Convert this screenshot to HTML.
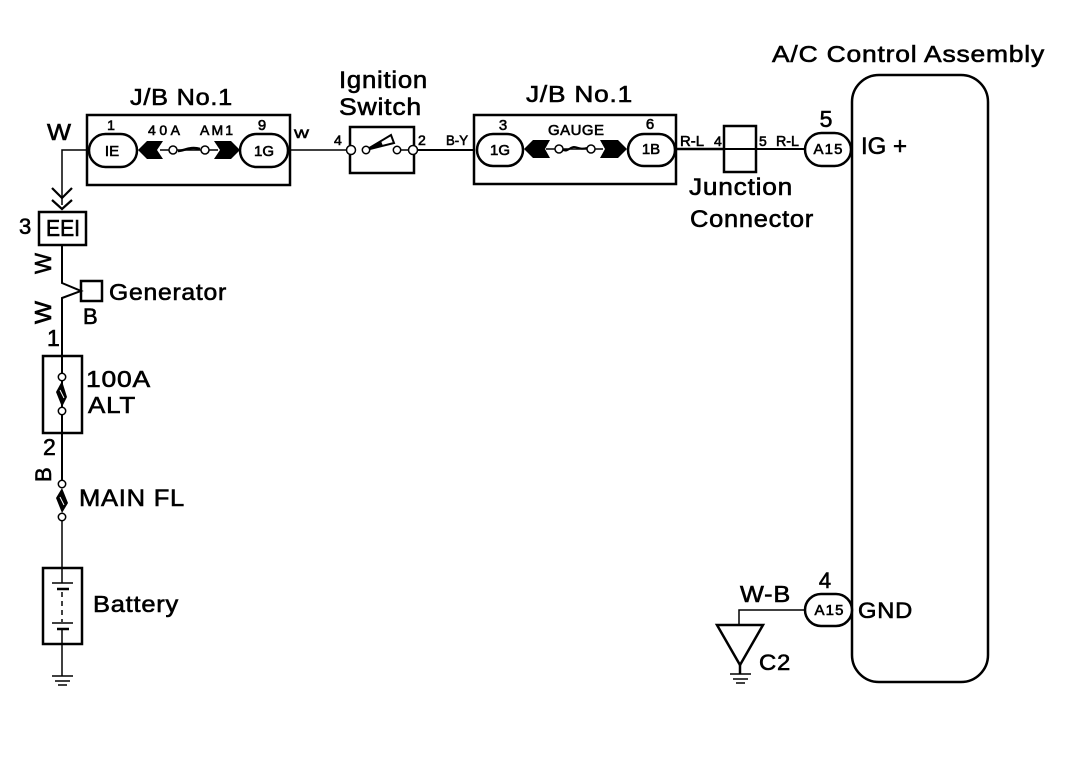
<!DOCTYPE html>
<html><head><meta charset="utf-8"><style>
html,body{margin:0;padding:0;background:#fff}
svg{display:block}
text{font-family:"Liberation Sans",sans-serif;fill:#000;stroke:#000;stroke-width:.6}
.t{letter-spacing:.7px}
.l{fill:none;stroke:#000;stroke-width:1.5}
.b{fill:none;stroke:#000;stroke-width:2.5}
.o{fill:#fff;stroke:#000;stroke-width:2.5}
.c{fill:#fff;stroke:#000;stroke-width:1.5}
.f{fill:#000;stroke:none}
.m{text-anchor:middle}
</style></head><body>
<svg width="1072" height="760" viewBox="0 0 1072 760" xmlns="http://www.w3.org/2000/svg">
<rect width="1072" height="760" fill="#fff"/>

<!-- wires -->
<path class="l" d="M88 150H62V205"/>
<path class="l" style="stroke-width:2.2" d="M52 188L62 198L72 188M52 200L62 209L72 200"/>
<path class="l" style="stroke-width:2" d="M62 245V283L81 291L62 298V484"/>
<path class="l" d="M62 517V568M62 644V676"/>
<path class="l" d="M290 150H351"/>
<path class="b" style="stroke-width:2" d="M413 150H475"/>
<path class="b" d="M675 149H724"/>
<path class="l" d="M724 149H756" style="stroke-width:2"/>
<path class="b" style="stroke-width:2" d="M756 149H804"/>
<path class="l" d="M804 610H739V625"/>

<!-- big assembly -->
<rect class="b" x="852" y="75" width="136" height="607" rx="27" ry="27"/>

<!-- J/B left -->
<rect class="b" x="87" y="115" width="203" height="70"/>
<rect class="o" x="89" y="134" width="48" height="33" rx="16.5"/>
<rect class="o" x="240" y="134" width="48" height="33" rx="16.5"/>
<path class="l" d="M160 150H218"/>
<path class="f" d="M138 150L147 141H163L157 150L163 159H147Z"/>
<path class="f" d="M240 150L231 141H214L220 150L214 159H231Z"/>
<path class="l" style="stroke-width:2.5" d="M178 151C184 151 190 146 200 149"/>
<circle class="c" cx="173" cy="150" r="4"/>
<circle class="c" cx="205" cy="150" r="4"/>

<!-- Ignition switch -->
<path class="b" d="M350 127H414V173H350Z"/>
<path class="l" d="M366 150L391 135L394 143Z" style="fill:#fff;stroke-width:2"/>
<path class="f" d="M366 150L381 141L383 146Z"/>
<circle class="c" cx="351" cy="150" r="4.5"/>
<circle class="c" cx="366" cy="150" r="3.7"/>
<circle class="c" cx="397" cy="150" r="3.7"/>
<circle class="c" cx="413" cy="150" r="4.5"/>
<path class="l" d="M401 150H409"/>

<!-- J/B right -->
<rect class="b" x="474" y="115" width="202" height="69"/>
<rect class="o" x="477" y="134" width="46" height="32" rx="16"/>
<rect class="o" x="628" y="134" width="47" height="32" rx="16"/>
<path class="l" d="M546 149H603"/>
<path class="f" d="M524 149L533 140H550L545 149L550 158H533Z"/>
<path class="f" d="M627 149L618 140H600L605 149L600 158H618Z"/>
<path class="l" style="stroke-width:2" d="M563 150C568 152 570 147 574 147C578 147 580 150 587 148"/>
<circle class="c" cx="559" cy="149" r="4"/>
<circle class="c" cx="591" cy="149" r="4"/>

<!-- Junction connector -->
<rect class="b" x="724" y="126" width="32" height="46"/>

<!-- A15 ovals -->
<rect class="o" x="805" y="133" width="46" height="33" rx="16.5"/>
<rect class="o" x="805" y="594" width="47" height="32" rx="16"/>

<!-- EEI / generator -->
<rect class="b" x="39" y="212" width="47" height="33"/>
<rect class="b" x="81" y="281" width="21" height="20"/>

<!-- 100A fuse -->
<rect class="b" x="43" y="356" width="39" height="77"/>
<path class="f" d="M62 381L56 392L62 407L67 397Z"/>
<path class="l" style="stroke:#fff;stroke-width:1" d="M60 390L64 398"/>
<circle class="c" cx="62" cy="377" r="3.7"/>
<circle class="c" cx="62" cy="411" r="3.7"/>

<!-- MAIN FL -->
<path class="f" d="M62 488L56 498L62 513L68 503Z"/>
<path class="l" style="stroke:#fff;stroke-width:1" d="M60 497L64 505"/>
<circle class="c" cx="62" cy="484" r="3.7"/>
<circle class="c" cx="62" cy="517" r="3.7"/>

<!-- Battery -->
<rect class="b" x="43" y="568" width="39" height="76"/>
<path class="l" d="M52 583H73"/>
<path class="b" d="M57 589H69M57 629H69"/>
<path class="l" d="M52 623H73"/>
<path class="l" style="stroke-dasharray:5 4" d="M62 592V622"/>
<path class="l" d="M62 568V583M62 629V644"/>
<path class="l" d="M52 676H73M55 681H70M58 685H67"/>

<!-- C2 ground -->
<path class="b" d="M717 625H763L740 665Z"/>
<path class="b" d="M740 665V674"/>
<path class="l" d="M730 674H751M733 679H748M736 683H745"/>

<!-- labels -->
<text class="t" x="772" y="62" font-size="23" textLength="273" lengthAdjust="spacingAndGlyphs">A/C Control Assembly</text>
<text class="t" x="130" y="105" font-size="23" textLength="103" lengthAdjust="spacingAndGlyphs">J/B No.1</text>
<text class="t" x="526" y="102" font-size="23" textLength="107" lengthAdjust="spacingAndGlyphs">J/B No.1</text>
<text class="t" x="339" y="88" font-size="24" textLength="89" lengthAdjust="spacingAndGlyphs">Ignition</text>
<text class="t" x="339" y="115" font-size="24" textLength="83" lengthAdjust="spacingAndGlyphs">Switch</text>
<text x="47" y="140" font-size="23" textLength="24" lengthAdjust="spacingAndGlyphs">W</text>
<text class="m" x="111" y="130" font-size="14">1</text>
<text class="m" x="262" y="130" font-size="15">9</text>
<text x="148" y="135" font-size="14" textLength="32">40A</text>
<text x="200" y="135" font-size="14" textLength="33">AM1</text>
<text class="m" x="112" y="156" font-size="15">IE</text>
<text class="m" x="264" y="156" font-size="15">1G</text>
<text x="294" y="138" font-size="12" textLength="15" lengthAdjust="spacingAndGlyphs">W</text>
<text x="19" y="234" font-size="22">3</text>
<text x="46" y="236" font-size="23" textLength="34" lengthAdjust="spacingAndGlyphs">EEI</text>
<text x="334" y="145" font-size="14">4</text>
<text x="418" y="145" font-size="14">2</text>
<text x="446" y="145" font-size="14" textLength="22" lengthAdjust="spacingAndGlyphs">B-Y</text>
<text class="m" x="503" y="130" font-size="15">3</text>
<text x="548" y="135" font-size="15" textLength="56">GAUGE</text>
<text class="m" x="500" y="155" font-size="15">1G</text>
<text class="m" x="650" y="129" font-size="15">6</text>
<text class="m" x="651" y="154" font-size="15">1B</text>
<text x="680" y="146" font-size="15" textLength="24" lengthAdjust="spacingAndGlyphs">R-L</text>
<text x="714" y="146" font-size="14">4</text>
<text x="759" y="146" font-size="14">5</text>
<text x="776" y="146" font-size="15" textLength="23" lengthAdjust="spacingAndGlyphs">R-L</text>
<text class="m" x="826" y="127" font-size="23">5</text>
<text class="m" x="828" y="154" font-size="15" textLength="29">A15</text>
<text x="861" y="154" font-size="24" textLength="46">IG +</text>
<text class="t" x="689" y="195" font-size="24" textLength="104" lengthAdjust="spacingAndGlyphs">Junction</text>
<text class="t" x="690" y="227" font-size="24" textLength="124" lengthAdjust="spacingAndGlyphs">Connector</text>
<text transform="translate(51 274) rotate(-90)" font-size="23" textLength="21" lengthAdjust="spacingAndGlyphs">W</text>
<text transform="translate(51 324) rotate(-90)" font-size="23" textLength="23" lengthAdjust="spacingAndGlyphs">W</text>
<text class="t" x="109" y="300" font-size="23" textLength="118" lengthAdjust="spacingAndGlyphs">Generator</text>
<text x="83" y="324" font-size="22">B</text>
<text x="47" y="346" font-size="23">1</text>
<text class="t" x="86" y="387" font-size="23" textLength="65" lengthAdjust="spacingAndGlyphs">100A</text>
<text class="t" x="88" y="413" font-size="23" textLength="48" lengthAdjust="spacingAndGlyphs">ALT</text>
<text x="43" y="455" font-size="23">2</text>
<text transform="translate(51 482) rotate(-90)" font-size="22">B</text>
<text class="t" x="79" y="506" font-size="24" textLength="106" lengthAdjust="spacingAndGlyphs">MAIN FL</text>
<text class="t" x="93" y="612" font-size="23" textLength="86" lengthAdjust="spacingAndGlyphs">Battery</text>
<text class="m" x="825" y="588" font-size="22">4</text>
<text class="t" x="740" y="602" font-size="23" textLength="51" lengthAdjust="spacingAndGlyphs">W-B</text>
<text class="m" x="829" y="615" font-size="15" textLength="29">A15</text>
<text class="t" x="858" y="618" font-size="22" textLength="55" lengthAdjust="spacingAndGlyphs">GND</text>
<text class="t" x="759" y="670" font-size="22" textLength="32" lengthAdjust="spacingAndGlyphs">C2</text>
</svg>
</body></html>
